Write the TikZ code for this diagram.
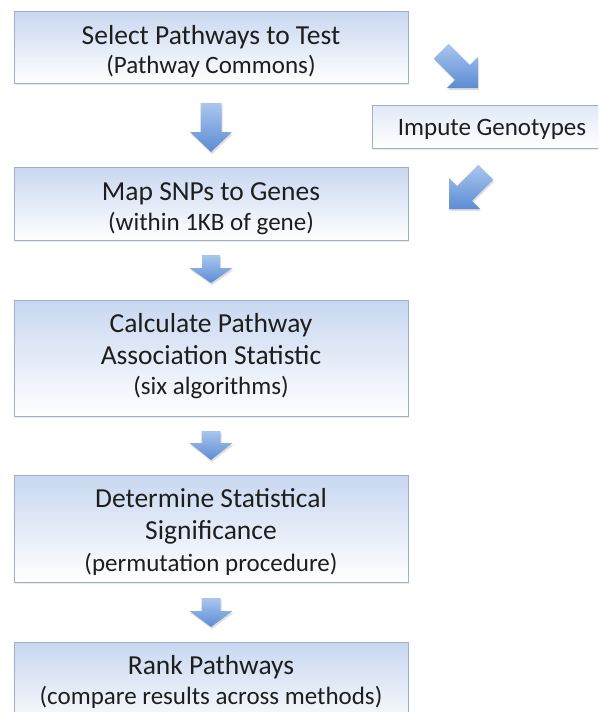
\documentclass[tikz,border=0pt]{standalone}
\usepackage{fontspec}
\setmainfont{Carlito}
\usetikzlibrary{shadows}
\definecolor{boxline}{RGB}{160,174,205}
\definecolor{boxtop}{RGB}{200,215,240}
\definecolor{arrtop}{RGB}{170,198,238}
\definecolor{arrbot}{RGB}{92,140,212}
\definecolor{txt}{RGB}{30,30,30}
\tikzset{
  stepbox/.style={draw=boxline, line width=1pt, top color=boxtop, bottom color=white,
    minimum width=394pt, inner sep=0pt,
    drop shadow={shadow xshift=1pt, shadow yshift=-1.5pt, opacity=0.15}},
  mainline/.style={anchor=base, text=txt, inner sep=0pt, font=\fontsize{27.5}{30}\selectfont},
  subline/.style={anchor=base, text=txt, inner sep=0pt, font=\fontsize{25}{30}\selectfont},
  blockarr/.style={draw=none, top color=arrtop, bottom color=arrbot,
    drop shadow={shadow xshift=1pt, shadow yshift=-2pt, opacity=0.25}}
}
% #1 tip, #2 rotation, #3 scale, #4 length, #5 head length, #6 shaft half width, #7 head half width
\newcommand{\blockarrow}[7]{%
  \path[blockarr, shift={(#1)}, rotate=#2, scale=#3]
    (0,0) -- (-#7,-#5) -- (-#6,-#5) -- (-#6,-#4) -- (#6,-#4) -- (#6,-#5) -- (#7,-#5) -- cycle;}
\begin{document}
\begin{tikzpicture}[x=1pt,y=-1pt]
\useasboundingbox (0,0) rectangle (598,712);
\clip (0,0) rectangle (598,712);
\fill[white] (0,0) rectangle (598,712);

\node[stepbox, minimum height=72pt] (b1) at (211,47) {};
\node[mainline] (t1a) at (211,44) {Select Pathways to Test};
\node[subline]  (t1b) at (211,73) {(Pathway Commons)};

\node[stepbox, minimum height=73pt] (b2) at (211,203.5) {};
\node[mainline] (t2a) at (211,200) {Map SNPs to Genes};
\node[subline]  (t2b) at (211,230) {(within 1KB of gene)};

\node[stepbox, minimum height=116pt] (b3) at (211,358) {};
\node[mainline] (t3a) at (211,332) {Calculate Pathway};
\node[mainline] (t3b) at (211,364) {Association Statistic};
\node[subline]  (t3c) at (211,394) {(six algorithms)};

\node[stepbox, minimum height=107pt] (b4) at (211,528.5) {};
\node[mainline] (t4a) at (211,507) {Determine Statistical};
\node[mainline] (t4b) at (211,539) {Significance};
\node[subline]  (t4c) at (211,571) {(permutation procedure)};

\node[stepbox, minimum height=90pt] (b5) at (211,687) {};
\node[mainline] (t5a) at (211,674) {Rank Pathways};
\node[subline]  (t5b) at (211,704) {(compare results across methods)};

\node[stepbox, minimum width=240pt, minimum height=43pt, top color=boxtop!55, bottom color=white] (imp) at (492,126.5) {};
\node[subline] (impt) at (492,135) {Impute Genotypes};

\coordinate (a1) at (211,152);
\coordinate (a2) at (211,283);
\coordinate (a3) at (211,460);
\coordinate (a4) at (211,627);
\coordinate (d1) at (478,88);
\coordinate (d2) at (449,209);

\blockarrow{a1}{0}{1}{49}{20}{10.5}{21}
\blockarrow{a2}{0}{1}{28}{15}{9}{21.5}
\blockarrow{a3}{0}{1}{29}{17}{9.5}{21.5}
\blockarrow{a4}{0}{1}{29}{16}{9.5}{21.5}
\blockarrow{d1}{45}{1}{52}{22}{10.5}{22}
\blockarrow{d2}{-45}{1}{52}{22}{10.5}{22}
\end{tikzpicture}
\end{document}
